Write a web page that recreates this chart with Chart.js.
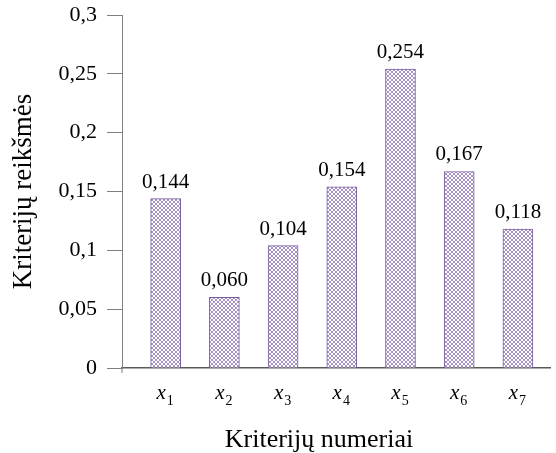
<!DOCTYPE html>
<html>
<head>
<meta charset="utf-8">
<script src="https://cdn.jsdelivr.net/npm/chart.js@4"></script>
<style>
  html, body { margin: 0; padding: 0; background: #fff; }
  #wrap { width: 556px; height: 453px; }
</style>
</head>
<body>
<div id="wrap"><canvas id="chart1"></canvas></div>
<script>
const categories = ['x1', 'x2', 'x3', 'x4', 'x5', 'x6', 'x7'];
const values = [0.144, 0.060, 0.104, 0.154, 0.254, 0.167, 0.118];
const valueLabels = ['0,144', '0,060', '0,104', '0,154', '0,254', '0,167', '0,118'];
const yTicks = [0, 0.05, 0.1, 0.15, 0.2, 0.25, 0.3];
const yTickLabels = ['0', '0,05', '0,1', '0,15', '0,2', '0,25', '0,3'];
const xTitle = 'Kriterijų numeriai';
const yTitle = 'Kriterijų reikšmės';

const serif = '"Liberation Serif", "Times New Roman", serif';
const axisColor = '#808080';
const barBorder = '#7a5c9e';

// crosshatch fill like the original
function hatch() {
  const c = document.createElement('canvas');
  c.width = 4; c.height = 4;
  const g = c.getContext('2d');
  g.fillStyle = '#ffffff';
  g.fillRect(0, 0, 4, 4);
  g.strokeStyle = '#a893c8';
  g.lineWidth = 1;
  g.beginPath();
  g.moveTo(0, 0); g.lineTo(4, 4);
  g.moveTo(4, 0); g.lineTo(0, 4);
  g.stroke();
  return g.createPattern(c, 'repeat');
}

// value labels, x labels with subscripts, x title
const textPlugin = {
  id: 'texts',
  afterDraw(chart) {
    const ctx = chart.ctx;
    const meta = chart.getDatasetMeta(0);
    const xs = chart.scales.x;
    const area = chart.chartArea;
    ctx.save();
    ctx.fillStyle = '#000';
    ctx.textBaseline = 'alphabetic';

    ctx.font = '21px ' + serif;
    ctx.textAlign = 'center';
    meta.data.forEach((bar, i) => {
      ctx.fillText(valueLabels[i], bar.x, bar.y - 11);
    });

    categories.forEach((c, i) => {
      const cx = xs.getPixelForValue(i + 1);
      const main = c[0], sub = c.slice(1);
      ctx.font = 'italic 21px ' + serif;
      const w1 = ctx.measureText(main).width;
      ctx.font = '14px ' + serif;
      const w2 = ctx.measureText(sub).width;
      const x0 = cx - (w1 + w2) / 2 - 1;
      ctx.textAlign = 'left';
      ctx.font = 'italic 21px ' + serif;
      ctx.fillText(main, x0, area.bottom + 31);
      ctx.font = '14px ' + serif;
      ctx.fillText(sub, x0 + w1 + 1, area.bottom + 37);
    });

    ctx.font = '26px ' + serif;
    ctx.textAlign = 'center';
    ctx.fillText(xTitle, 319, 447);

    // y axis runs a little below the x axis
    ctx.strokeStyle = axisColor;
    ctx.lineWidth = 1;
    ctx.beginPath();
    ctx.moveTo(area.left, area.bottom);
    ctx.lineTo(area.left, area.bottom + 5);
    ctx.stroke();
    ctx.restore();
  }
};

const data = {
  datasets: [{
    data: values.map((v, i) => ({ x: i + 1, y: v })),
    backgroundColor: hatch(),
    borderColor: barBorder,
    borderWidth: 1,
    barThickness: 30
  }]
};

const config = {
  type: 'bar',
  data: data,
  options: {
    responsive: true,
    maintainAspectRatio: false,
    animation: false,
    layout: { padding: { top: 15, right: 6, left: 0, bottom: 0 } },
    plugins: { legend: { display: false }, tooltip: { enabled: false } },
    scales: {
      x: {
        type: 'linear',
        offset: false,
        min: 0.256,
        max: 7.547,
        afterBuildTicks(scale) {
          scale.ticks = categories.map((c, i) => ({ value: i + 1 }));
        },
        afterFit(scale) { scale.height = 453 - 368; },
        grid: { display: false },
        border: { display: true, color: '#5a5a5a', width: 1.5 },
        ticks: { display: false }
      },
      y: {
        min: 0,
        max: 0.3,
        afterBuildTicks(scale) {
          scale.ticks = yTicks.map(v => ({ value: v }));
        },
        afterFit(scale) {
          scale.width = 122;
          scale.paddingTop = 0;
          scale.paddingBottom = 0;
        },
        grid: {
          drawOnChartArea: false,
          drawTicks: true,
          tickLength: 15,
          color: axisColor
        },
        border: { display: true, color: axisColor, width: 1 },
        ticks: {
          padding: 10,
          color: '#000',
          font: { family: serif, size: 22 },
          callback: (v) => yTickLabels[yTicks.indexOf(v)]
        },
        title: {
          display: true,
          text: yTitle,
          color: '#000',
          font: { family: serif, size: 27 },
          padding: { top: 8, bottom: 0 }
        }
      }
    }
  },
  plugins: [textPlugin]
};

const myChart = new Chart(document.getElementById('chart1'), config);
</script>
</body>
</html>
